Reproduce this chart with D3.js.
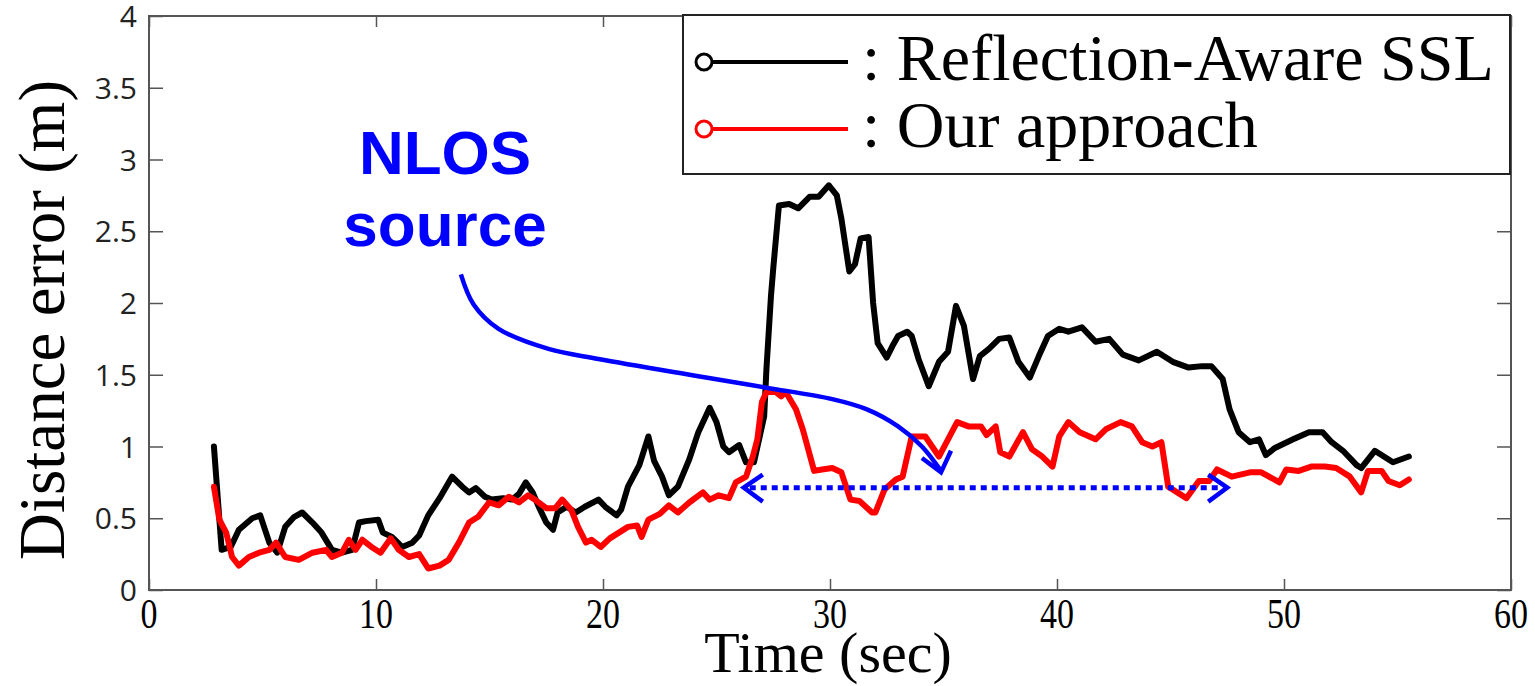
<!DOCTYPE html>
<html>
<head>
<meta charset="utf-8">
<script src="https://cdn.jsdelivr.net/npm/d3@7"></script>
<style>
  body { margin: 0; background: #fff; }
  svg { display: block; }
</style>
</head>
<body>
<div id="chart"></div>
<script>
var width = 1535,
    height = 686;

// tick values
var xTicks = [0, 10, 20, 30, 40, 50, 60],
    yTicks = [0, 0.5, 1, 1.5, 2, 2.5, 3, 3.5, 4];

var seriesNames = ["Reflection-Aware SSL", "Our approach"],
    seriesColors = ["#000", "#f00"];

// [time (sec), distance error (m)]
var reflectionAware = [
  [2.86,1.0],[3.2,0.28],[3.6,0.30],[3.96,0.42],[4.55,0.50],[4.9,0.52],[5.3,0.33],[5.65,0.26],
  [6.0,0.44],[6.4,0.51],[6.75,0.54],[7.2,0.47],[7.6,0.40],[8.06,0.28],[8.5,0.26],[8.95,0.28],
  [9.25,0.47],[9.55,0.48],[10.1,0.49],[10.3,0.40],[10.7,0.37],[11.15,0.30],[11.6,0.33],[11.9,0.38],
  [12.3,0.52],[12.8,0.64],[13.35,0.79],[13.8,0.72],[14.1,0.68],[14.4,0.71],[14.8,0.65],[15.1,0.63],
  [15.6,0.64],[16.0,0.63],[16.3,0.67],[16.6,0.75],[16.9,0.68],[17.2,0.57],[17.5,0.47],[17.8,0.42],
  [18.0,0.54],[18.4,0.58],[18.8,0.54],[19.2,0.58],[19.8,0.63],[20.1,0.58],[20.6,0.52],[20.8,0.56],
  [21.1,0.72],[21.6,0.87],[22.0,1.07],[22.25,0.90],[22.6,0.79],[22.9,0.66],[23.3,0.72],[23.8,0.91],
  [24.2,1.10],[24.7,1.27],[25.0,1.17],[25.3,1.0],[25.55,0.96],[26.0,1.01],[26.3,0.89],[26.65,0.89],
  [27.1,1.21],[27.2,1.54],[27.4,2.05],[27.5,2.24],[27.75,2.68],[28.2,2.69],[28.6,2.66],[29.1,2.74],
  [29.5,2.74],[29.95,2.82],[30.3,2.75],[30.5,2.59],[30.85,2.22],[31.1,2.27],[31.35,2.45],[31.7,2.46],
  [31.9,2.0],[32.1,1.72],[32.5,1.62],[32.75,1.70],[33.0,1.77],[33.4,1.80],[33.6,1.77],[33.9,1.61],
  [34.35,1.42],[34.8,1.59],[35.2,1.66],[35.55,1.98],[35.9,1.84],[36.3,1.47],[36.6,1.63],[37.0,1.68],
  [37.45,1.75],[37.9,1.76],[38.3,1.59],[38.8,1.48],[39.2,1.63],[39.6,1.77],[40.1,1.82],[40.5,1.80],
  [41.1,1.83],[41.7,1.73],[42.3,1.75],[42.9,1.64],[43.6,1.60],[44.4,1.66],[45.1,1.59],[45.8,1.55],
  [46.4,1.56],[46.8,1.56],[47.3,1.47],[47.6,1.26],[48.0,1.10],[48.5,1.03],[48.9,1.05],[49.2,0.94],
  [49.6,0.99],[50.4,1.05],[51.1,1.10],[51.7,1.10],[52.1,1.03],[52.6,0.97],[53.2,0.87],[53.4,0.85],
  [54.0,0.97],[54.8,0.89],[55.5,0.93]
];

var ourApproach = [
  [2.86,0.72],[3.1,0.49],[3.4,0.40],[3.66,0.23],[3.96,0.17],[4.4,0.23],[4.85,0.26],[5.3,0.28],
  [5.6,0.33],[6.0,0.23],[6.6,0.21],[7.2,0.26],[7.8,0.28],[8.06,0.23],[8.5,0.26],[8.8,0.35],
  [9.1,0.28],[9.4,0.35],[9.8,0.30],[10.2,0.26],[10.65,0.36],[11.0,0.28],[11.45,0.23],[11.9,0.25],
  [12.3,0.15],[12.8,0.17],[13.2,0.21],[13.65,0.33],[14.1,0.47],[14.5,0.51],[14.98,0.61],[15.4,0.59],
  [15.85,0.65],[16.3,0.61],[16.7,0.66],[17.0,0.63],[17.5,0.57],[17.9,0.57],[18.2,0.63],[18.6,0.56],
  [18.9,0.44],[19.25,0.33],[19.5,0.35],[19.9,0.30],[20.3,0.36],[20.7,0.40],[21.1,0.44],[21.5,0.45],
  [21.7,0.37],[22.0,0.49],[22.5,0.53],[22.9,0.59],[23.3,0.54],[23.8,0.61],[24.4,0.68],[24.7,0.63],
  [25.1,0.66],[25.55,0.64],[25.85,0.75],[26.3,0.79],[26.6,0.93],[26.8,1.05],[27.0,1.31],[27.2,1.38],
  [27.6,1.38],[27.85,1.35],[28.05,1.38],[28.5,1.26],[28.8,1.12],[29.3,0.83],[29.65,0.84],[30.1,0.85],
  [30.5,0.82],[30.9,0.63],[31.3,0.62],[31.85,0.54],[32.0,0.54],[32.4,0.70],[32.9,0.77],[33.2,0.79],
  [33.6,1.07],[34.2,1.07],[34.8,0.93],[35.2,1.05],[35.6,1.17],[36.1,1.14],[36.65,1.14],[36.9,1.08],
  [37.3,1.14],[37.5,0.96],[37.9,0.93],[38.5,1.10],[38.9,0.98],[39.35,0.93],[39.8,0.86],[40.1,1.07],
  [40.5,1.17],[41.0,1.10],[41.7,1.05],[42.15,1.12],[42.8,1.17],[43.3,1.14],[43.75,1.03],[44.2,1.0],
  [44.6,1.03],[44.9,0.72],[45.7,0.64],[46.25,0.76],[46.7,0.76],[47.05,0.84],[47.7,0.79],[48.5,0.82],
  [49.0,0.82],[49.8,0.75],[50.1,0.84],[50.65,0.83],[51.2,0.86],[51.8,0.86],[52.3,0.85],[52.9,0.79],
  [53.4,0.68],[53.7,0.83],[54.3,0.83],[54.6,0.76],[55.1,0.73],[55.5,0.77]
];

// annotation (data units)
var nlosCurve = [[13.74,2.20],[14.3,1.99],[15.4,1.82],[17.6,1.68],[19.8,1.61],[24.2,1.49],
                 [27.2,1.41],[30.1,1.33],[31.6,1.26],[33.0,1.14],[34.05,1.0],[34.89,0.83]];
var nlosHead = [[34.05,0.92],[34.89,0.82],[35.33,0.97]];
var spanY = 0.713, spanFrom = 26.2, spanTo = 47.5;

var x = d3.scaleLinear().domain([0, 60]).range([149, 1511]);
var y = d3.scaleLinear().domain([0, 4]).range([590, 16]);

var svg = d3.select("#chart")
  .append("svg")
  .attr("width", width)
  .attr("height", height);

var frameColor = "#555";

function styleTicks(g) {
  g.select(".domain").remove();
  g.selectAll("line").attr("stroke", frameColor).attr("stroke-width", 1.5);
}

// ticks, all four sides pointing inward
svg.append("g")
  .attr("transform", "translate(0," + y(0) + ")")
  .call(d3.axisBottom(x).tickValues(xTicks).tickSize(-11).tickSizeOuter(0).tickFormat(""))
  .call(styleTicks);
svg.append("g")
  .attr("transform", "translate(0," + y(4) + ")")
  .call(d3.axisTop(x).tickValues(xTicks).tickSize(-11).tickSizeOuter(0).tickFormat(""))
  .call(styleTicks);
svg.append("g")
  .attr("transform", "translate(" + x(0) + ",0)")
  .call(d3.axisLeft(y).tickValues(yTicks).tickSize(-14).tickSizeOuter(0).tickFormat(""))
  .call(styleTicks);
svg.append("g")
  .attr("transform", "translate(" + x(60) + ",0)")
  .call(d3.axisRight(y).tickValues(yTicks).tickSize(-14).tickSizeOuter(0).tickFormat(""))
  .call(styleTicks);

// frame
svg.append("rect")
  .attr("x", x(0))
  .attr("y", y(4))
  .attr("width", x(60) - x(0))
  .attr("height", y(0) - y(4))
  .attr("fill", "none")
  .attr("stroke", frameColor)
  .attr("stroke-width", 2);

// tick labels
svg.selectAll(".xlab")
  .data(xTicks)
  .enter().append("text")
  .attr("class", "xlab")
  .attr("text-anchor", "middle")
  .attr("transform", function(d) { return "translate(" + x(d) + ",628) scale(1,1.25)"; })
  .style("font-family", "'Liberation Serif', 'Times New Roman', serif")
  .style("font-size", "34px")
  .text(function(d) { return d; });

svg.selectAll(".ylab")
  .data(yTicks)
  .enter().append("text")
  .attr("class", "ylab")
  .attr("text-anchor", "end")
  .attr("x", 137)
  .attr("y", function(d) { return y(d) + 11; })
  .style("font-family", "'Open Sans', sans-serif")
  .style("font-size", "30px")
  .style("fill", "#222")
  .text(function(d) { return d; });

// axis titles
svg.append("text")
  .attr("x", 828)
  .attr("y", 672)
  .attr("text-anchor", "middle")
  .style("font-family", "'Liberation Serif', 'Times New Roman', serif")
  .style("font-size", "58px")
  .text("Time (sec)");

svg.append("text")
  .attr("transform", "translate(64,320) rotate(-90)")
  .attr("text-anchor", "middle")
  .style("font-family", "'Liberation Serif', 'Times New Roman', serif")
  .style("font-size", "65px")
  .text("Distance error (m)");

// series lines
var line = d3.line()
  .x(function(d) { return x(d[0]); })
  .y(function(d) { return y(d[1]); });

[reflectionAware, ourApproach].forEach(function(data, i) {
  svg.append("path")
    .datum(data)
    .attr("d", line)
    .attr("fill", "none")
    .attr("stroke", seriesColors[i])
    .attr("stroke-width", 6)
    .attr("stroke-linejoin", "round")
    .attr("stroke-linecap", "round");
});

// NLOS annotation
var blue = "#0000ff";
svg.append("path")
  .datum(nlosCurve)
  .attr("d", d3.line().x(function(d) { return x(d[0]); }).y(function(d) { return y(d[1]); }).curve(d3.curveCatmullRom))
  .attr("fill", "none")
  .attr("stroke", blue)
  .attr("stroke-width", 4.5);
svg.append("path")
  .datum(nlosHead)
  .attr("d", line)
  .attr("fill", "none")
  .attr("stroke", blue)
  .attr("stroke-width", 4.5);

svg.append("line")
  .attr("x1", x(spanFrom) + 6)
  .attr("x2", x(spanTo) - 6)
  .attr("y1", y(spanY))
  .attr("y2", y(spanY))
  .attr("stroke", blue)
  .attr("stroke-width", 5)
  .attr("stroke-dasharray", "6,5");
[[spanFrom, 1], [spanTo, -1]].forEach(function(a) {
  var tx = x(a[0]), ty = y(spanY);
  svg.append("path")
    .attr("d", "M" + (tx + a[1] * 19) + "," + (ty - 13) + "L" + tx + "," + ty + "L" + (tx + a[1] * 19) + "," + (ty + 14))
    .attr("fill", "none")
    .attr("stroke", blue)
    .attr("stroke-width", 4.5);
});

svg.selectAll(".nlos")
  .data(["NLOS", "source"])
  .enter().append("text")
  .attr("x", 445)
  .attr("y", function(d, i) { return 174 + i * 72; })
  .attr("text-anchor", "middle")
  .style("font-family", "'Liberation Sans', Arial, sans-serif")
  .style("font-weight", "bold")
  .style("font-size", "62px")
  .style("fill", blue)
  .text(function(d) { return d; });

// legend
var legend = svg.append("g");
legend.append("rect")
  .attr("x", 683)
  .attr("y", 15)
  .attr("width", 1510 - 683)
  .attr("height", 174 - 15)
  .attr("fill", "#fff")
  .attr("stroke", "#222")
  .attr("stroke-width", 2);

seriesNames.forEach(function(name, i) {
  var cy = 62 + i * 67;
  legend.append("line")
    .attr("x1", 708).attr("x2", 848)
    .attr("y1", cy).attr("y2", cy)
    .attr("stroke", seriesColors[i])
    .attr("stroke-width", 4);
  legend.append("circle")
    .attr("cx", 704).attr("cy", cy).attr("r", 8)
    .attr("fill", "#fff")
    .attr("stroke", seriesColors[i])
    .attr("stroke-width", 3);
  legend.append("text")
    .attr("x", 862)
    .attr("y", cy + 18)
    .style("font-family", "'Liberation Serif', 'Times New Roman', serif")
    .style("font-size", "66px")
    .text(": " + name);
});
</script>
</body>
</html>
